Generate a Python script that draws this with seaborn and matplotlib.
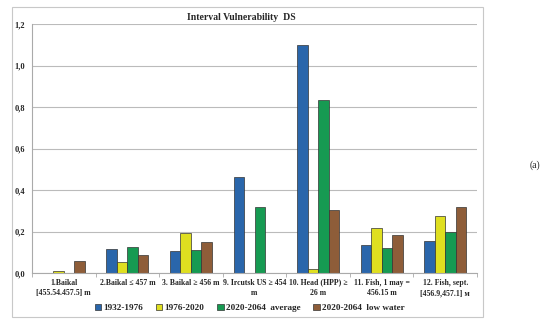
import matplotlib
matplotlib.use("Agg")
import matplotlib.pyplot as plt
import seaborn as sns
import pandas as pd
from matplotlib.patches import Rectangle
from matplotlib.ticker import FixedLocator

categories = ["1.Baikal\n[455.54.457.5] m", "2.Baikal \u2264 457 m", "3. Baikal \u2265 456 m",
              "9. Ircutsk US \u2265 454\nm", "10. Head (HPP) \u2265\n26 m",
              "11. Fish, 1 may =\n456.15 m", "12. Fish, sept.\n[456.9,457.1] \u043c"]
series_names = ["1932-1976", "1976-2020", "2020-2064  average", "2020-2064  low water"]
v_1932_1976 = [0.0, 0.116, 0.104, 0.461, 1.100, 0.133, 0.156]
v_1976_2020 = [0.012, 0.051, 0.193, 0.0, 0.019, 0.217, 0.276]
v_2020_avg = [0.0, 0.127, 0.112, 0.316, 0.832, 0.119, 0.196]
v_2020_low = [0.056, 0.088, 0.147, 0.0, 0.305, 0.181, 0.318]
colors = ["#1565C0", "#FFFF00", "#00B050", "#9C5B2B"]

rows = []
for name, vals in zip(series_names, [v_1932_1976, v_1976_2020, v_2020_avg, v_2020_low]):
    for c, v in zip(categories, vals):
        rows.append({"cat": c, "series": name, "value": v})
df = pd.DataFrame(rows)

sns.set_style("white")
plt.rcParams['font.family'] = ['Liberation Serif', 'DejaVu Serif']

fig = plt.figure(figsize=(5.5, 3.27), dpi=100)
ax = fig.add_axes([32/550, 1 - 273/327, (477-32)/550, (273-24)/327])

sns.barplot(data=df, x="cat", y="value", hue="series", order=categories,
            hue_order=series_names, palette=colors, width=0.66, gap=0,
            edgecolor="#333333", linewidth=0.5, ax=ax, legend=True)

ax.set_ylim(0, 1.2)
ax.set_xlim(-0.5, 6.5)
ax.set_yticks([0, 0.2, 0.4, 0.6, 0.8, 1.0, 1.2])
ax.set_yticklabels(["0,0", "0,2", "0,4", "0,6", "0,8", "1,0", "1,2"], fontsize=6, fontweight="bold")
ax.yaxis.grid(True, color="#BBBBBB", linewidth=0.8)
ax.set_axisbelow(True)
for s in ["top", "right"]:
    ax.spines[s].set_visible(False)
ax.spines["left"].set_color("#AAAAAA")
ax.spines["bottom"].set_color("#AAAAAA")
ax.set_xlabel("")
ax.set_ylabel("")
ax.tick_params(axis="x", length=0, pad=4)
ax.tick_params(axis="y", length=3, color="#AAAAAA", pad=2)
ax.xaxis.set_minor_locator(FixedLocator([i + 0.5 for i in range(-1, 7)]))
ax.tick_params(axis="x", which="minor", length=3, color="#AAAAAA", bottom=True)
for lbl in ax.get_xticklabels():
    lbl.set_fontsize(5.6)
    lbl.set_fontweight("bold")
    lbl.set_linespacing(1.45)

ax.set_title("Interval Vulnerability  DS", fontsize=7, fontweight="bold", x=0.47, y=1.0, pad=3)

handles, labels = ax.get_legend_handles_labels()
ax.legend(handles, labels, loc="center", bbox_to_anchor=(0.489, -0.14), ncol=4,
          frameon=False, prop={"weight": "bold", "size": 6.6}, handlelength=0.7,
          handleheight=0.7, handletextpad=0.25, columnspacing=1.4, borderpad=0)

fig.patches.append(Rectangle((12/550, 1 - 317/327), (483-12)/550, (317-7)/327,
                             transform=fig.transFigure, fill=False,
                             edgecolor="#C8C8C8", linewidth=0.8))
fig.text(535/550, 1 - 165/327, "(a)", fontsize=7, ha="center", va="center")

fig.savefig("out.png", dpi=100)
